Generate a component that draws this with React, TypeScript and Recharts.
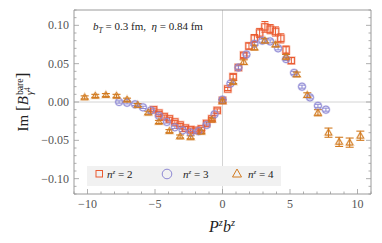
import { ScatterChart, Scatter, XAxis, YAxis, ErrorBar, ReferenceLine } from "recharts"

// n^z = 2 (squares)
const sqX = [-5.1, -4.71, -4.32, -3.93, -3.53, -3.14, -2.75, -2.36, -1.96, -1.57, -1.18, -0.79, -0.39, 0, 0.39, 0.79, 1.18, 1.57, 1.96, 2.36, 2.75, 3.14, 3.53, 3.93, 4.32, 4.71, 5.1]
const sqY = [-0.01, -0.0145, -0.019, -0.022, -0.026, -0.03, -0.034, -0.036, -0.037, -0.035, -0.028, -0.022, -0.011, 0.002, 0.017, 0.033, 0.045, 0.061, 0.073, 0.083, 0.09, 0.098, 0.095, 0.092, 0.083, 0.068, 0.054]
const sqErr = [0.002, 0.002, 0.002, 0.002, 0.002, 0.002, 0.002, 0.002, 0.002, 0.002, 0.002, 0.002, 0.002, 0.002, 0.002, 0.003, 0.003, 0.003, 0.004, 0.005, 0.006, 0.007, 0.006, 0.006, 0.006, 0.005, 0.004]

// n^z = 3 (circles)
const ciX = [-7.66, -7.07, -6.48, -5.89, -5.3, -4.71, -4.12, -3.53, -2.95, -2.36, -1.77, -1.18, -0.59, 0, 0.59, 1.18, 1.77, 2.36, 2.95, 3.53, 4.12, 4.71, 5.3, 5.89, 6.48, 7.07, 7.66]
const ciY = [0.0, -0.001, -0.003, -0.007, -0.011, -0.018, -0.026, -0.033, -0.037, -0.04, -0.038, -0.03, -0.016, 0.003, 0.024, 0.045, 0.062, 0.076, 0.08, 0.079, 0.07, 0.056, 0.038, 0.02, 0.006, -0.005, -0.01]
const ciErr = [0.0015, 0.0015, 0.0015, 0.0015, 0.0015, 0.0015, 0.0015, 0.0015, 0.0015, 0.0015, 0.0015, 0.0015, 0.0015, 0.0015, 0.0015, 0.002, 0.002, 0.002, 0.002, 0.002, 0.002, 0.002, 0.002, 0.002, 0.002, 0.002, 0.002]

// n^z = 4 (triangles)
const trX = [-10.21, -9.42, -8.64, -7.85, -7.07, -6.28, -5.5, -4.71, -3.93, -3.14, -2.36, -1.57, -0.79, 0, 0.79, 1.57, 2.36, 3.14, 3.93, 4.71, 5.5, 6.28, 7.07, 7.85, 8.64, 9.42, 10.21]
const trY = [0.006, 0.008, 0.009, 0.008, 0.003, -0.004, -0.014, -0.026, -0.038, -0.045, -0.046, -0.039, -0.023, 0.001, 0.026, 0.052, 0.071, 0.08, 0.075, 0.059, 0.036, 0.009, -0.014, -0.04, -0.052, -0.053, -0.044]
const trErr = [0.002, 0.002, 0.002, 0.002, 0.002, 0.002, 0.002, 0.002, 0.002, 0.002, 0.002, 0.002, 0.002, 0.002, 0.002, 0.003, 0.003, 0.003, 0.003, 0.003, 0.003, 0.003, 0.004, 0.006, 0.006, 0.006, 0.006]

const xTicks = [-11, -10, -9, -8, -7, -6, -5, -4, -3, -2, -1, 0, 1, 2, 3, 4, 5, 6, 7, 8, 9, 10, 11]
const yTicks = [-0.12, -0.11, -0.1, -0.09, -0.08, -0.07, -0.06, -0.05, -0.04, -0.03, -0.02, -0.01, 0, 0.01, 0.02, 0.03, 0.04, 0.05, 0.06, 0.07, 0.08, 0.09, 0.1, 0.11, 0.12]

const zip = (xs: number[], ys: number[], es: number[]) => xs.map((x, i) => ({ x, y: ys[i], err: es[i] }))

const SQ = "#ea5a30"
const CI = "#8d88d4"
const TR = "#d27a1f"
const FRAME = "#9a9a9a"
const serif = "'Liberation Serif', 'DejaVu Serif', serif"

const fmt = (v: number) => {
  const n = Math.round(v * 100)
  const s = (Math.abs(n) / 100).toFixed(2)
  return n < 0 ? "\u2212" + s : s
}

const XTick = (side: "b" | "t") => (p: any) => {
  const v = Math.round(p.payload.value)
  const major = v % 5 === 0
  const len = major ? 5 : 2.5
  const dir = side === "b" ? -1 : 1
  return (
    <g>
      <line x1={p.x} x2={p.x} y1={p.y} y2={p.y + dir * len} stroke={FRAME} strokeWidth={0.8} />
      {side === "b" && major && Math.abs(v) <= 10 && (
        <text x={p.x} y={p.y + 13.5} textAnchor="middle" fontSize={12} fontFamily={serif} fill="#555">
          {v < 0 ? "\u2212" + Math.abs(v) : String(v)}
        </text>
      )}
    </g>
  )
}

const YTick = (side: "l" | "r") => (p: any) => {
  const n = Math.round(p.payload.value * 100)
  const major = n % 5 === 0
  const len = major ? 5 : 2.5
  const dir = side === "l" ? 1 : -1
  return (
    <g>
      <line x1={p.x} x2={p.x + dir * len} y1={p.y} y2={p.y} stroke={FRAME} strokeWidth={0.8} />
      {side === "l" && major && Math.abs(n) <= 10 && (
        <text x={p.x - 5} y={p.y + 4} textAnchor="end" fontSize={12} fontFamily={serif} fill="#555">
          {fmt(p.payload.value)}
        </text>
      )}
    </g>
  )
}

const Square = (p: any) => (
  <g>
    <rect x={p.cx - 3.2} y={p.cy - 3.2} width={6.4} height={6.4} fill="none" stroke={SQ} strokeOpacity={0.3} strokeWidth={2.4} />
    <rect x={p.cx - 3.2} y={p.cy - 3.2} width={6.4} height={6.4} fill="none" stroke={SQ} strokeWidth={0.9} />
  </g>
)

const Circle = (p: any) => (
  <g>
    <circle cx={p.cx} cy={p.cy} r={3.6} fill="none" stroke={CI} strokeOpacity={0.3} strokeWidth={2} />
    <circle cx={p.cx} cy={p.cy} r={3.6} fill="none" stroke={CI} strokeWidth={0.9} />
  </g>
)

const Triangle = (p: any) => {
  const d = `M${p.cx},${p.cy - 3.6} L${p.cx + 3.4},${p.cy + 2.4} L${p.cx - 3.4},${p.cy + 2.4} Z`
  return (
    <g>
      <path d={d} fill="none" stroke={TR} strokeOpacity={0.3} strokeWidth={2} />
      <path d={d} fill="none" stroke={TR} strokeWidth={0.9} />
    </g>
  )
}

const Sup = ({ children }: { children: any }) => (
  <span style={{ fontSize: "0.65em", verticalAlign: "0.55em", lineHeight: 0 }}>{children}</span>
)

export default function App() {
  return (
    <div style={{ position: "absolute", left: 0, top: 0, width: 382, height: 243, background: "#fff" }}>
      <ScatterChart width={382} height={243} margin={{ top: 9, right: 10, bottom: 48, left: 73 }}>
        <XAxis xAxisId="b" type="number" dataKey="x" domain={[-11, 11]} ticks={xTicks} interval={0} height={1} allowDataOverflow
          tickSize={0} tickMargin={0} axisLine={{ stroke: FRAME }} tickLine={false} tick={XTick("b")} />
        <XAxis xAxisId="t" orientation="top" type="number" domain={[-11, 11]} ticks={xTicks} interval={0} height={1} allowDataOverflow
          tickSize={0} tickMargin={0} axisLine={{ stroke: FRAME }} tickLine={false} tick={XTick("t")} />
        <YAxis yAxisId="l" type="number" dataKey="y" domain={[-0.12, 0.12]} ticks={yTicks} interval={0} width={1} allowDataOverflow
          tickSize={0} tickMargin={0} axisLine={{ stroke: FRAME }} tickLine={false} tick={YTick("l")} />
        <YAxis yAxisId="r" orientation="right" type="number" domain={[-0.12, 0.12]} ticks={yTicks} interval={0} width={1} allowDataOverflow
          tickSize={0} tickMargin={0} axisLine={{ stroke: FRAME }} tickLine={false} tick={YTick("r")} />
        <ReferenceLine xAxisId="b" yAxisId="l" x={0} stroke="#d4d4d4" strokeWidth={1} />
        <ReferenceLine xAxisId="b" yAxisId="l" y={0} stroke="#d4d4d4" strokeWidth={1} />
        <Scatter xAxisId="b" yAxisId="l" data={zip(sqX, sqY, sqErr)} shape={Square} isAnimationActive={false}>
          <ErrorBar dataKey="err" direction="y" width={3.5} stroke={SQ} strokeWidth={1} />
        </Scatter>
        <Scatter xAxisId="b" yAxisId="l" data={zip(ciX, ciY, ciErr)} shape={Circle} isAnimationActive={false}>
          <ErrorBar dataKey="err" direction="y" width={3} stroke={CI} strokeWidth={1} />
        </Scatter>
        <Scatter xAxisId="b" yAxisId="l" data={zip(trX, trY, trErr)} shape={Triangle} isAnimationActive={false}>
          <ErrorBar dataKey="err" direction="y" width={4} stroke={TR} strokeWidth={1.1} />
        </Scatter>
      </ScatterChart>

      <div style={{ position: "absolute", left: 93, top: 20, fontFamily: serif, fontSize: 11, color: "#222", whiteSpace: "nowrap" }}>
        <i>b</i><sub style={{ fontSize: "0.7em" }}><i>T</i></sub> = 0.3 fm, &nbsp;<i>η</i> = 0.84 fm
      </div>

      <div style={{ position: "absolute", left: 87, top: 166, width: 194, height: 20, background: "#f1f1f1", fontFamily: serif, fontSize: 11, color: "#222" }}>
        <svg width={194} height={20} style={{ position: "absolute", left: 0, top: 0 }}>
          <rect x={9} y={4.5} width={6.5} height={6.5} fill="none" stroke={SQ} strokeWidth={1} />
          <circle cx={80} cy={8} r={4.8} fill="none" stroke={CI} strokeWidth={1} />
          <path d="M150,3 L154.5,11 L145.5,11 Z" fill="none" stroke={TR} strokeWidth={1} />
        </svg>
        <span style={{ position: "absolute", left: 20, top: 2, whiteSpace: "nowrap" }}><i>n</i><Sup><i>z</i></Sup> = 2</span>
        <span style={{ position: "absolute", left: 96, top: 2, whiteSpace: "nowrap" }}><i>n</i><Sup><i>z</i></Sup> = 3</span>
        <span style={{ position: "absolute", left: 161, top: 2, whiteSpace: "nowrap" }}><i>n</i><Sup><i>z</i></Sup> = 4</span>
      </div>

      <div style={{ position: "absolute", left: 222, top: 218, transform: "translateX(-50%)", fontFamily: serif, fontSize: 16, color: "#222", whiteSpace: "nowrap" }}>
        <i>P</i><Sup><i>z</i></Sup><i>b</i><Sup><i>z</i></Sup>
      </div>

      <div style={{ position: "absolute", left: 24, top: 102, transform: "translate(-50%, -50%) rotate(-90deg)", fontFamily: serif, fontSize: 15, color: "#222", whiteSpace: "nowrap" }}>
        Im <span style={{ fontSize: "1.15em" }}>[</span><i>B</i>
        <span style={{ display: "inline-flex", flexDirection: "column", fontSize: "0.65em", lineHeight: 1, verticalAlign: "middle", marginLeft: 1 }}>
          <span>bare</span>
          <span><i>γ</i><span style={{ fontSize: "0.8em", verticalAlign: "0.3em" }}>4</span></span>
        </span>
        <span style={{ fontSize: "1.15em" }}>]</span>
      </div>
    </div>
  )
}
